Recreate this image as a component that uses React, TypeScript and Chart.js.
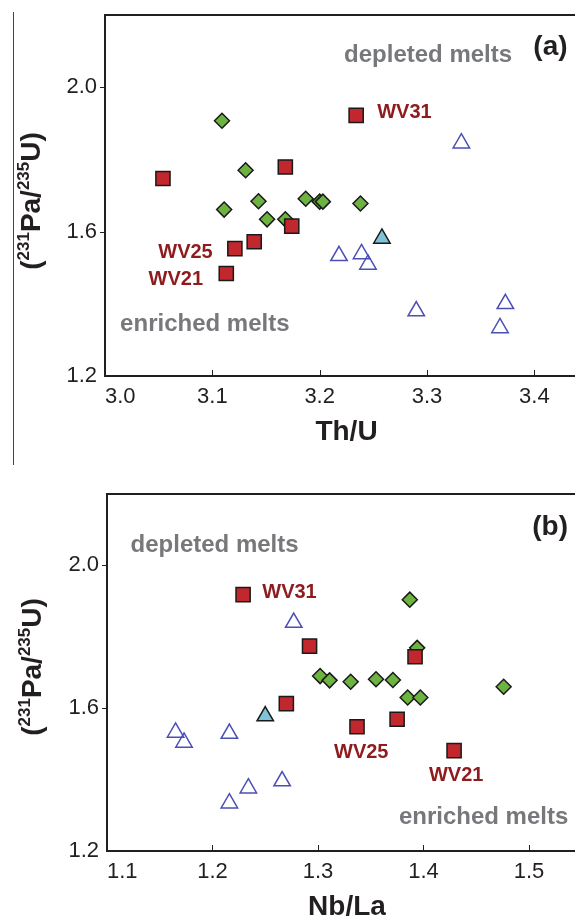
import React, { useEffect, useRef } from 'react';
import { Chart, registerables } from 'chart.js';

Chart.register(...registerables);

// ---------- Panel (a): Th/U vs (231Pa/235U) ----------
const thuSquaresX = [3.054, 3.168, 3.121, 3.139, 3.174, 3.113, 3.234];
const thuSquaresY = [1.747, 1.779, 1.553, 1.572, 1.615, 1.484, 1.922];
const thuDiamondsX = [3.109, 3.131, 3.143, 3.111, 3.151, 3.168, 3.187, 3.200, 3.203, 3.238];
const thuDiamondsY = [1.907, 1.770, 1.684, 1.661, 1.634, 1.634, 1.691, 1.683, 1.683, 1.678];
const thuFilledTriX = [3.258];
const thuFilledTriY = [1.581];
const thuOpenTriX = [3.332, 3.218, 3.239, 3.245, 3.290, 3.373, 3.368];
const thuOpenTriY = [1.845, 1.533, 1.538, 1.509, 1.380, 1.400, 1.333];
const thuTicks = [3.0, 3.1, 3.2, 3.3, 3.4];

// ---------- Panel (b): Nb/La vs (231Pa/235U) ----------
const nblaSquaresX = [1.229, 1.270, 1.292, 1.392, 1.337, 1.375, 1.429];
const nblaSquaresY = [1.918, 1.613, 1.774, 1.744, 1.548, 1.569, 1.481];
const nblaDiamondsX = [1.387, 1.394, 1.302, 1.311, 1.331, 1.355, 1.371, 1.385, 1.397, 1.476];
const nblaDiamondsY = [1.904, 1.769, 1.690, 1.678, 1.674, 1.681, 1.679, 1.630, 1.630, 1.660];
const nblaFilledTriX = [1.250];
const nblaFilledTriY = [1.578];
const nblaOpenTriX = [1.277, 1.165, 1.173, 1.216, 1.234, 1.216, 1.266];
const nblaOpenTriY = [1.840, 1.532, 1.504, 1.529, 1.376, 1.334, 1.396];
const nblaTicks = [1.1, 1.2, 1.3, 1.4, 1.5];

const paTicks = [1.2, 1.6, 2.0];

// ---------- styles ----------
const FAMILY = '"Liberation Sans", Arial, Helvetica, sans-serif';
const INK = '#231f20';
const GRAY = '#77787b';
const DARKRED = '#8e1b1e';
const RED = '#c1272d';
const GREEN = '#6cb33f';
const LIGHTBLUE = '#7ec3d6';
const PURPLEBLUE = '#4b4fb5';

type Note = { text: string; x: number; y: number; color: string; size: number };

const notesA: Note[] = [
  { text: '(a)', x: 3.415, y: 2.111, color: INK, size: 28 },
  { text: 'depleted melts', x: 3.301, y: 2.088, color: GRAY, size: 24 },
  { text: 'enriched melts', x: 3.093, y: 1.344, color: GRAY, size: 24 },
  { text: 'WV31', x: 3.279, y: 1.931, color: DARKRED, size: 20 },
  { text: 'WV25', x: 3.075, y: 1.542, color: DARKRED, size: 20 },
  { text: 'WV21', x: 3.066, y: 1.467, color: DARKRED, size: 20 },
];

const notesB: Note[] = [
  { text: '(b)', x: 1.520, y: 2.108, color: INK, size: 28 },
  { text: 'depleted melts', x: 1.202, y: 2.057, color: GRAY, size: 24 },
  { text: 'WV31', x: 1.273, y: 1.924, color: DARKRED, size: 20 },
  { text: 'WV25', x: 1.341, y: 1.477, color: DARKRED, size: 20 },
  { text: 'WV21', x: 1.431, y: 1.412, color: DARKRED, size: 20 },
  { text: 'enriched melts', x: 1.457, y: 1.295, color: GRAY, size: 24 },
];

type Spec = {
  top: number;
  width: number;
  height: number;
  padTop: number;
  padRight: number;
  yWidth: number;
  xHeight: number;
  xMin: number;
  xMax: number;
  xTicks: number[];
  xTitle: string;
  yTitleX: number;
  yTitleY: number;
  sq: [number[], number[]];
  di: [number[], number[]];
  ft: [number[], number[]];
  ot: [number[], number[]];
  notes: Note[];
};

const pts = (xs: number[], ys: number[]) => xs.map((x, i) => ({ x, y: ys[i] }));

function drawYTitle(ctx: CanvasRenderingContext2D, cx: number, cy: number) {
  const big = `bold 28px ${FAMILY}`;
  const small = `bold 17px ${FAMILY}`;
  const parts = [
    { t: '(', sup: false },
    { t: '231', sup: true },
    { t: 'Pa/', sup: false },
    { t: '235', sup: true },
    { t: 'U)', sup: false },
  ];
  ctx.save();
  let total = 0;
  const widths = parts.map((p) => {
    ctx.font = p.sup ? small : big;
    const w = ctx.measureText(p.t).width;
    total += w;
    return w;
  });
  ctx.translate(cx, cy);
  ctx.rotate(-Math.PI / 2);
  ctx.fillStyle = INK;
  ctx.textAlign = 'left';
  ctx.textBaseline = 'alphabetic';
  let x = -total / 2;
  parts.forEach((p, i) => {
    ctx.font = p.sup ? small : big;
    ctx.fillText(p.t, x, p.sup ? -1 : 10);
    x += widths[i];
  });
  ctx.restore();
}

function buildConfig(spec: Spec): any {
  const decor = {
    id: 'decor',
    beforeDatasetsDraw(chart: any) {
      const { ctx, chartArea: a, scales } = chart;
      ctx.save();
      ctx.strokeStyle = INK;
      ctx.lineWidth = 2;
      ctx.strokeRect(a.left, a.top, a.right - a.left, a.bottom - a.top);
      ctx.lineWidth = 1;
      ctx.beginPath();
      for (const v of spec.xTicks) {
        const px = Math.round(scales.x.getPixelForValue(v)) + 0.5;
        if (px <= a.left + 2) continue;
        ctx.moveTo(px, a.bottom);
        ctx.lineTo(px, a.bottom - 6);
      }
      for (const v of paTicks) {
        const py = Math.round(scales.y.getPixelForValue(v)) + 0.5;
        if (py >= a.bottom - 2) continue;
        ctx.moveTo(a.left - 5, py);
        ctx.lineTo(a.left, py);
      }
      ctx.stroke();
      ctx.restore();
    },
    afterDatasetsDraw(chart: any) {
      const { ctx, scales } = chart;
      ctx.save();
      ctx.textAlign = 'center';
      ctx.textBaseline = 'middle';
      for (const n of spec.notes) {
        ctx.font = `bold ${n.size}px ${FAMILY}`;
        ctx.fillStyle = n.color;
        ctx.fillText(n.text, scales.x.getPixelForValue(n.x), scales.y.getPixelForValue(n.y));
      }
      ctx.restore();
      drawYTitle(ctx, spec.yTitleX, spec.yTitleY);
    },
  };

  const isTick = (v: number) => spec.xTicks.some((t) => Math.abs(t - v) < 1e-9);

  return {
    type: 'scatter',
    data: {
      datasets: [
        {
          label: 'squares',
          data: pts(spec.sq[0], spec.sq[1]),
          pointStyle: 'rect',
          pointRadius: 10,
          backgroundColor: RED,
          borderColor: '#1a1a1a',
          borderWidth: 1.5,
          order: 1,
        },
        {
          label: 'filled triangle',
          data: pts(spec.ft[0], spec.ft[1]),
          pointStyle: 'triangle',
          pointRadius: 9.5,
          backgroundColor: LIGHTBLUE,
          borderColor: '#1a1a1a',
          borderWidth: 1.5,
          order: 2,
        },
        {
          label: 'diamonds',
          data: pts(spec.di[0], spec.di[1]),
          pointStyle: 'rectRot',
          pointRadius: 7.5,
          backgroundColor: GREEN,
          borderColor: '#1a1a1a',
          borderWidth: 1.5,
          order: 3,
        },
        {
          label: 'open triangles',
          data: pts(spec.ot[0], spec.ot[1]),
          pointStyle: 'triangle',
          pointRadius: 9.5,
          backgroundColor: 'rgba(255,255,255,0)',
          borderColor: PURPLEBLUE,
          borderWidth: 1.5,
          order: 4,
        },
      ],
    },
    options: {
      responsive: false,
      animation: false,
      events: [],
      layout: { padding: { top: spec.padTop, right: spec.padRight, left: 0, bottom: 0 } },
      plugins: { legend: { display: false }, tooltip: { enabled: false } },
      scales: {
        x: {
          type: 'linear',
          min: spec.xMin,
          max: spec.xMax,
          grid: { display: false, drawTicks: false },
          border: { display: false },
          afterBuildTicks: (s: any) => {
            s.ticks = [...spec.xTicks, spec.xMax].map((value) => ({ value }));
          },
          afterFit: (s: any) => {
            s.height = spec.xHeight;
            s.paddingLeft = 0;
            s.paddingRight = 0;
          },
          ticks: {
            align: 'inner',
            padding: 8,
            color: INK,
            font: { family: FAMILY, size: 22 },
            maxRotation: 0,
            autoSkip: false,
            callback: (v: any) => (isTick(Number(v)) ? Number(v).toFixed(1) : ''),
          },
          title: {
            display: true,
            text: spec.xTitle,
            color: INK,
            font: { family: FAMILY, size: 28, weight: 'bold' },
            padding: { top: 0, bottom: 16 },
          },
        },
        y: {
          type: 'linear',
          min: 1.2,
          max: 2.2,
          grid: { display: false, drawTicks: false },
          border: { display: false },
          afterBuildTicks: (s: any) => {
            s.ticks = paTicks.map((value) => ({ value }));
          },
          afterFit: (s: any) => {
            s.width = spec.yWidth;
            s.paddingTop = 0;
            s.paddingBottom = 0;
          },
          ticks: {
            padding: 8,
            color: INK,
            font: { family: FAMILY, size: 22 },
            callback: (v: any) => Number(v).toFixed(1),
          },
        },
      },
    },
    plugins: [decor],
  };
}

const specA: Spec = {
  top: 0,
  width: 600,
  height: 465,
  padTop: 15,
  padRight: 12,
  yWidth: 105,
  xHeight: 89,
  xMin: 3.0,
  xMax: 3.45,
  xTicks: thuTicks,
  xTitle: 'Th/U',
  yTitleX: 30,
  yTitleY: 201,
  sq: [thuSquaresX, thuSquaresY],
  di: [thuDiamondsX, thuDiamondsY],
  ft: [thuFilledTriX, thuFilledTriY],
  ot: [thuOpenTriX, thuOpenTriY],
  notes: notesA,
};

const specB: Spec = {
  top: 470,
  width: 600,
  height: 470,
  padTop: 24,
  padRight: 13,
  yWidth: 107,
  xHeight: 89,
  xMin: 1.1,
  xMax: 1.555,
  xTicks: nblaTicks,
  xTitle: 'Nb/La',
  yTitleX: 31,
  yTitleY: 197,
  sq: [nblaSquaresX, nblaSquaresY],
  di: [nblaDiamondsX, nblaDiamondsY],
  ft: [nblaFilledTriX, nblaFilledTriY],
  ot: [nblaOpenTriX, nblaOpenTriY],
  notes: notesB,
};

function Panel({ spec }: { spec: Spec }) {
  const ref = useRef<HTMLCanvasElement>(null);
  useEffect(() => {
    if (!ref.current) return;
    const chart = new Chart(ref.current, buildConfig(spec));
    return () => chart.destroy();
  }, [spec]);
  return (
    <canvas
      ref={ref}
      width={spec.width}
      height={spec.height}
      style={{ position: 'absolute', left: 0, top: spec.top, width: spec.width, height: spec.height }}
    />
  );
}

export default function App() {
  return (
    <div
      style={{
        position: 'absolute',
        left: 0,
        top: 0,
        width: 575,
        height: 917,
        overflow: 'hidden',
        background: '#ffffff',
      }}
    >
      <div style={{ position: 'absolute', left: 13, top: 12, width: 1, height: 453, background: '#444' }} />
      <Panel spec={specA} />
      <Panel spec={specB} />
    </div>
  );
}
